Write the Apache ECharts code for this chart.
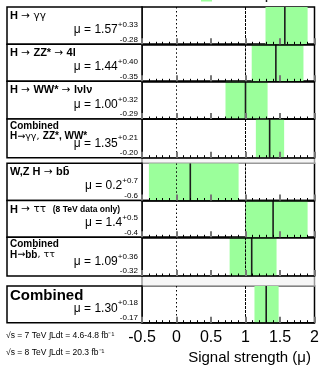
<!DOCTYPE html>
<html><head><meta charset="utf-8">
<script src="https://cdn.jsdelivr.net/npm/echarts@6/dist/echarts.min.js"></script>
<style>html,body{margin:0;padding:0;background:#fff}#c{width:321px;height:367px}</style>
</head><body><div id="c"></div>
<script>
// Decay channels (rich-text titles) and their signal strengths
const channelTitles = [
  ['{b|H} {n|→ γγ}'],
  ['{b|H} {n|→} {b|ZZ*} {n|→} {b|4l}'],
  ['{b|H} {n|→} {b|WW*} {n|→} {b|lνlν}'],
  ['{c|Combined}', '{c|H}{m|→γγ,} {c|ZZ*, WW*}'],
  ['{b|W,Z H} {n|→} {b|bb̄}'],
  ['{b|H} {n|→ ττ}  {s|(8 TeV data only)}'],
  ['{c|Combined}', '{c|H}{m|→}{c|bb̄}{m|, ττ}'],
  ['{big|Combined}']
];
const muValues  = [1.57, 1.44, 1.00, 1.35, 0.2, 1.4, 1.09, 1.30];
const errUp     = [0.33, 0.40, 0.32, 0.21, 0.7, 0.5, 0.36, 0.18];
const errDown   = [0.28, 0.35, 0.29, 0.20, 0.6, 0.4, 0.32, 0.17];
const decimals  = [2, 2, 2, 2, 1, 1, 2, 2];
const xTicks    = [-0.5, 0, 0.5, 1, 1.5, 2];
const refLines  = [0, 1];
const lumiLines = ['√s = 7 TeV ∫Ldt = 4.6-4.8 fb⁻¹', '√s = 8 TeV ∫Ldt = 20.3 fb⁻¹'];
const axisTitle = 'Signal strength (μ)';

// Panel geometry: [top, bottom] of each row
const rowSpans = [[7,44.3],[44.3,81.3],[81.3,119],[119,157.7],[163.3,200.5],[200.5,237.3],[237.3,276],[286,322.7]];
const gaps = [[157.7,163.3],[276,286]];
const PL = 142, PR = 314.5, BL = 7;
const FONT = 'Liberation Sans';
const SYM = 'DejaVu Sans';

const measure = (() => {
  const ctx = document.createElement('canvas').getContext('2d');
  return (txt, size, weight) => { ctx.font = (weight||'normal') + ' ' + size + 'px "' + FONT + '"'; return ctx.measureText(txt).width; };
})();

const grids = [], xAxes = [], yAxes = [], series = [], graphics = [];

rowSpans.forEach(([t, b], i) => {
  grids.push({ left: PL, top: t, width: PR - PL, height: b - t, show: true,
    borderColor: '#000', borderWidth: 1.5, backgroundColor: 'transparent', containLabel: false, outerBoundsMode: 'none' });
  const last = i === rowSpans.length - 1;
  xAxes.push({ gridIndex: i, type: 'value', min: xTicks[0], max: xTicks[xTicks.length - 1],
    interval: xTicks[1] - xTicks[0], z: 5,
    axisLine: { show: true, onZero: false, lineStyle: { color: '#000', width: 1.5 } },
    axisTick: { show: true, inside: true, length: 6, lineStyle: { color: '#777', width: 2 } },
    minorTick: { show: true, splitNumber: 5, length: 2.5, lineStyle: { color: '#000', width: 1 } },
    splitLine: { show: false }, minorSplitLine: { show: false },
    axisLabel: { show: last, fontSize: 16, color: '#000', fontFamily: FONT, margin: 7,
      showMinLabel: true, showMaxLabel: true, formatter: v => String(v) } });
  yAxes.push({ gridIndex: i, type: 'value', min: 0, max: 1, show: false });

  const lo = muValues[i] - errDown[i], hi = muValues[i] + errUp[i];
  series.push({ type: 'custom', xAxisIndex: i, yAxisIndex: i, z: 2, clip: true, silent: true,
    data: [[lo, hi, muValues[i]]],
    renderItem(params, api) {
      const p0 = api.coord([api.value(0), 1]);
      const p1 = api.coord([api.value(1), 0]);
      const pc = api.coord([api.value(2), 0]);
      const kids = [{ type: 'rect', shape: { x: p0[0], y: p0[1], width: p1[0] - p0[0], height: p1[1] - p0[1] },
        style: { fill: '#9bff9b' } }];
      refLines.forEach((r, k) => {
        const px = api.coord([r, 0])[0];
        kids.push({ type: 'line', shape: { x1: px, y1: p0[1], x2: px, y2: p1[1] },
          style: { stroke: '#000', lineWidth: 1, lineDash: k === 0 ? [1.5, 2.5] : [3, 1] } });
      });
      kids.push({ type: 'line', shape: { x1: pc[0], y1: p0[1], x2: pc[0], y2: p1[1] },
        style: { stroke: '#1c1c1c', lineWidth: 1.6 } });
      return { type: 'group', children: kids };
    } });

  // Left-hand label box
  graphics.push({ type: 'rect', shape: { x: BL, y: t, width: PL - BL, height: b - t },
    style: { fill: '#fff', stroke: '#000', lineWidth: 1.5 }, z: 1 });
  const rich = {
    b: { fontSize: 11, fontWeight: 'bold', fontFamily: FONT, fill: '#000' },
    n: { fontSize: 10.5, fontFamily: SYM, fill: '#000' },
    c: { fontSize: 10, fontWeight: 'bold', fontFamily: FONT, fill: '#000' },
    m: { fontSize: 9.5, fontFamily: SYM, fill: '#000' },
    s: { fontSize: 8.5, fontWeight: 'bold', fontFamily: FONT, fill: '#000' },
    big: { fontSize: 15, fontWeight: 'bold', fontFamily: FONT, fill: '#000' }
  };
  const lines = channelTitles[i];
  const ys = lines.length === 2 ? [t + 7, t + 17.5] : [t + (last ? 10 : 9)];
  lines.forEach((txt, k) => {
    graphics.push({ type: 'text', x: BL + 3, y: ys[k], z: 2,
      style: { text: txt, rich, textAlign: 'left', textVerticalAlign: 'middle' } });
  });
  // Signal strength with asymmetric uncertainty
  const d = decimals[i];
  const up = '+' + errUp[i].toFixed(d), dn = '-' + errDown[i].toFixed(d);
  const wSup = Math.max(measure(up, 8), measure(dn, 8));
  const rightEdge = PL - 4;
  graphics.push({ type: 'text', x: rightEdge - wSup, y: b - 14.5, z: 2,
    style: { text: 'μ = ' + muValues[i].toFixed(d), fontSize: 12, fontFamily: FONT, fill: '#000',
      textAlign: 'right', textVerticalAlign: 'middle' } });
  graphics.push({ type: 'text', x: rightEdge - wSup, y: b - 19.5, z: 2,
    style: { text: up, fontSize: 8, fontFamily: FONT, fill: '#000', textAlign: 'left', textVerticalAlign: 'middle' } });
  graphics.push({ type: 'text', x: rightEdge, y: b - 5, z: 2,
    style: { text: dn, fontSize: 8, fontFamily: FONT, fill: '#000', textAlign: 'right', textVerticalAlign: 'middle' } });
});

// Separators between channel groups
gaps.forEach(([t, b]) => {
  graphics.push({ type: 'rect', shape: { x: PL, y: t, width: PR - PL, height: b - t },
    style: { fill: '#f6f6f6', stroke: '#999', lineWidth: 1.5 }, z: 0 });
});

// Legend entries peeking in above the frame
graphics.push({ type: 'rect', shape: { x: 201, y: -6, width: 11, height: 7.5 }, style: { fill: '#9bff9b' } });
graphics.push({ type: 'line', shape: { x1: 266.5, y1: -6, x2: 266.5, y2: 2 }, style: { stroke: '#1c1c1c', lineWidth: 1.5 } });

// Luminosity notes and axis title
lumiLines.forEach((txt, k) => {
  graphics.push({ type: 'text', x: 6, y: k === 0 ? 336 : 353, z: 2,
    style: { text: txt, fontSize: 8.5, fontFamily: FONT, fill: '#000', textAlign: 'left', textVerticalAlign: 'middle' } });
});
graphics.push({ type: 'text', x: 311, y: 358, z: 2,
  style: { text: axisTitle, fontSize: 15, fontFamily: FONT, fill: '#000', textAlign: 'right', textVerticalAlign: 'middle' } });

const chart = echarts.init(document.getElementById('c'), null, { renderer: 'canvas' });
chart.setOption({
  animation: false,
  backgroundColor: '#fff',
  grid: grids, xAxis: xAxes, yAxis: yAxes, series,
  graphic: { elements: graphics }
});
</script></body></html>
